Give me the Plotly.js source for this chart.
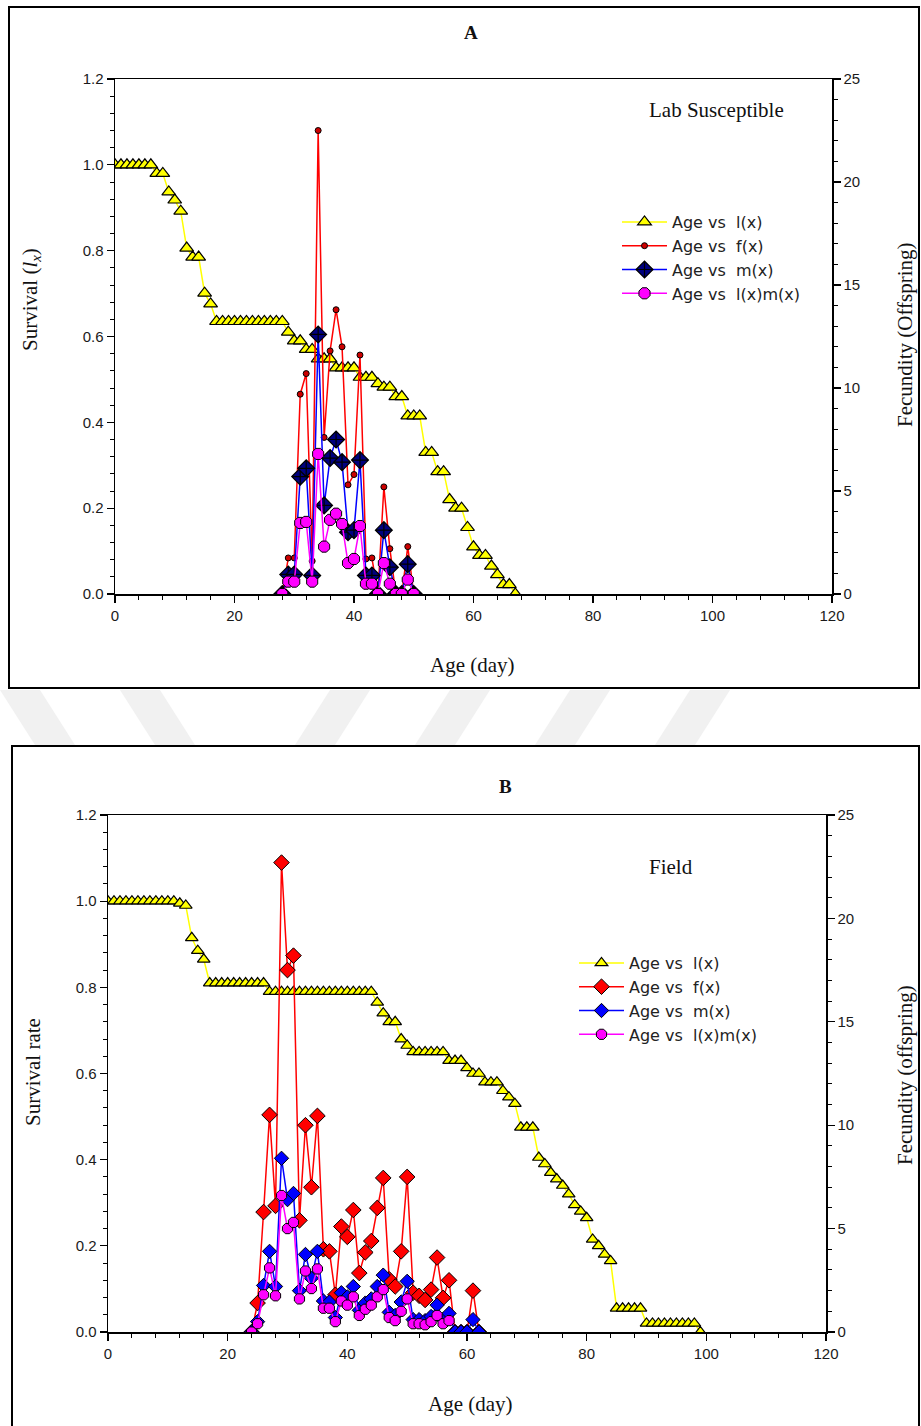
<!DOCTYPE html>
<html><head><meta charset="utf-8">
<script src="https://cdn.plot.ly/plotly-3.0.1.min.js"></script>
<style>html,body{margin:0;padding:0;background:#fff;}#chart{width:921px;height:1426px;}</style>
</head><body><div id="chart"></div>
<script>
// ---------- Panel A (Lab Susceptible) ----------
const ageLxA = [0,1,2,3,4,5,6,7,8,9,10,11,12,13,14,15,16,17,18,19,20,21,22,23,24,25,26,27,28,29,30,31,32,33,34,35,36,37,38,39,40,41,42,43,44,45,46,47,48,49,50,51,52,53,54,55,56,57,58,59,60,61,62,63,64,65,66,67];
const lxA = [1,1,1,1,1,1,1,0.98,0.98,0.937,0.918,0.892,0.806,0.785,0.785,0.701,0.676,
  0.635,0.635,0.635,0.635,0.635,0.635,0.635,0.635,0.635,0.635,0.635,0.635,
  0.61,0.59,0.59,0.57,0.57,0.548,0.548,0.548,0.527,0.527,0.527,0.527,0.505,0.505,0.505,0.49,
  0.482,0.482,0.46,0.46,0.415,0.415,0.415,0.33,0.33,0.285,0.285,0.22,0.2,0.2,0.155,0.11,
  0.09,0.09,0.065,0.045,0.022,0.022,0];
const ageFA = [28,29,30,31,32,33,34,35,36,37,38,39,40,41,42,43,44,45,46,47,48,49,50];
const fA  = [0,1.75,1.75,9.7,10.7,1.6,22.5,7.6,11.8,13.8,12.0,5.3,5.8,11.6,1.7,1.75,0,5.2,2.2,0,0,2.3,0];
const mA  = [0,0.95,0.95,5.7,6.1,0.9,12.6,4.3,6.6,7.5,6.4,3.0,3.1,6.5,0.9,0.9,0,3.1,1.3,0,0,1.45,0];
const lmA = [0,0.6,0.6,3.45,3.5,0.6,6.8,2.3,3.6,3.9,3.4,1.5,1.7,3.3,0.5,0.5,0,1.5,0.5,0,0,0.7,0];

// ---------- Panel B (Field) ----------
const ageLxB = [0,1,2,3,4,5,6,7,8,9,10,11,12,13,14,15,16,17,18,19,20,21,22,23,24,25,26,27,28,29,30,31,32,33,34,35,36,37,38,39,40,41,42,43,44,45,46,47,48,49,50,51,52,53,54,55,56,57,58,59,60,61,62,63,64,65,66,67,68,69,70,71,72,73,74,75,76,77,78,79,80,81,82,83,84,85,86,87,88,89,90,91,92,93,94,95,96,97,98,99];
const lxB = [1,1,1,1,1,1,1,1,1,1,1,1,0.995,0.99,0.915,0.885,0.865,
  0.81,0.81,0.81,0.81,0.81,0.81,0.81,0.81,0.81,0.81,
  0.79,0.79,0.79,0.79,0.79,0.79,0.79,0.79,0.79,0.79,0.79,0.79,0.79,0.79,0.79,0.79,0.79,0.79,
  0.765,0.74,0.72,0.72,0.68,0.665,0.65,0.65,0.65,0.65,0.65,0.65,0.63,0.63,0.63,0.613,0.6,0.6,
  0.58,0.58,0.58,0.56,0.545,0.53,0.475,0.475,0.475,0.405,0.39,0.37,0.355,0.34,0.32,0.295,0.28,0.265,
  0.215,0.2,0.18,0.165,0.055,0.055,0.055,0.055,0.055,0.02,0.02,0.02,0.02,0.02,0.02,0.02,0.02,0.02,0];
const ageFB = [24,25,26,27,28,29,30,31,32,33,34,35,36,37,38,39,40,41,42,43,44,45,46,47,48,49,50,51,52,53,54,55,56,57,58,59,60,61,62];
const fB = [0,1.4,5.8,10.5,6.1,22.7,17.5,18.2,5.4,10.0,7.0,10.45,4.0,3.9,1.8,5.1,4.6,5.9,2.85,3.85,4.4,6.0,7.45,2.55,2.2,3.9,7.5,1.9,1.75,1.55,2.05,3.6,1.65,2.5,0,0,0,2.0,0];
const mB = [0,0.5,2.25,3.9,2.2,8.4,6.4,6.7,2.0,3.75,2.6,3.9,1.5,1.45,0.7,1.9,1.7,2.2,1.05,1.4,1.6,2.2,2.75,0.95,0.8,1.45,2.45,0.6,0.6,0.55,0.75,1.3,0.6,0.9,0,0,0,0.6,0];
const ageLmB = [24,25,26,27,28,29,30,31,32,33,34,35,36,37,38,39,40,41,42,43,44,45,46,47,48,49,50,51,52,53,54,55,56,57];
const lmB = [0,0.4,1.8,3.1,1.75,6.6,5.0,5.3,1.6,2.95,2.1,3.05,1.15,1.15,0.5,1.5,1.3,1.7,0.8,1.1,1.3,1.7,2.05,0.7,0.55,1.0,1.6,0.4,0.4,0.35,0.5,0.8,0.4,0.55];

const seriesNames = ['Age vs\u00a0 l(x)','Age vs\u00a0 f(x)','Age vs\u00a0 m(x)','Age vs\u00a0 l(x)m(x)'];

const W = 921, H = 1426;
const px = x => x / W;
const py = y => 1 - y / H;

const blk = {color:'#000', width:1};
const traces = [
  {x:ageLxA, y:lxA, xaxis:'x', yaxis:'y', name:seriesNames[0], legend:'legend', mode:'lines+markers',
   line:{color:'#FFFF00', width:1.5}, marker:{symbol:'triangle-up', size:12, color:'#FFFF00', line:{color:'#000', width:1.2}}},
  {x:ageFA, y:fA, xaxis:'x', yaxis:'y2', name:seriesNames[1], legend:'legend', mode:'lines+markers',
   line:{color:'#FF0000', width:1.5}, marker:{symbol:'circle', size:6, color:'#CC0000', line:blk}},
  {x:ageFA, y:mA, xaxis:'x', yaxis:'y2', name:seriesNames[2], legend:'legend', mode:'lines+markers',
   line:{color:'#0000FF', width:1.5}, marker:{symbol:'diamond-cross', size:13, color:'#000080', line:{color:'#000', width:1.2}}},
  {x:ageFA, y:lmA, xaxis:'x', yaxis:'y2', name:seriesNames[3], legend:'legend', mode:'lines+markers',
   line:{color:'#FF00FF', width:1.5}, marker:{symbol:'octagon', size:12, color:'#FF00FF', line:blk}},

  {x:ageLxB, y:lxB, xaxis:'x2', yaxis:'y3', name:seriesNames[0], legend:'legend2', mode:'lines+markers',
   line:{color:'#FFFF00', width:1.5}, marker:{symbol:'triangle-up', size:11, color:'#FFFF00', line:{color:'#000', width:1.2}}},
  {x:ageFB, y:fB, xaxis:'x2', yaxis:'y4', name:seriesNames[1], legend:'legend2', mode:'lines+markers',
   line:{color:'#FF0000', width:1.5}, marker:{symbol:'diamond', size:12, color:'#FF0000', line:blk}},
  {x:ageFB, y:mB, xaxis:'x2', yaxis:'y4', name:seriesNames[2], legend:'legend2', mode:'lines+markers',
   line:{color:'#0000FF', width:1.5}, marker:{symbol:'diamond', size:11, color:'#0000FF', line:blk}},
  {x:ageLmB, y:lmB, xaxis:'x2', yaxis:'y4', name:seriesNames[3], legend:'legend2', mode:'lines+markers',
   line:{color:'#FF00FF', width:1.5}, marker:{symbol:'octagon', size:11, color:'#FF00FF', line:blk}}
];

const tickFont = {family:'"Liberation Sans", Arial, sans-serif', size:15, color:'#1a1a1a'};
const base = {showline:true, linecolor:'#000', linewidth:1.5, ticks:'outside', ticklen:7, tickwidth:1.2,
  tickcolor:'#000', showgrid:false, zeroline:false, tickfont:tickFont, fixedrange:true, automargin:false};
const minorY = d => ({dtick:d, ticks:'outside', ticklen:4, tickwidth:1, tickcolor:'#000', showgrid:false});

const serif = '"Liberation Serif", "Times New Roman", serif';
const titleFont = {family:serif, size:21, color:'#111'};
const legendFont = {family:'"DejaVu Sans", Verdana, sans-serif', size:16, color:'#222'};

function ann(x, y, text, font, angle) {
  const a = {xref:'paper', yref:'paper', x:px(x), y:py(y), xanchor:'center', yanchor:'middle',
    text:text, showarrow:false, font:font};
  if (angle) a.textangle = angle;
  return a;
}
function band(xTop, xBot, w) {
  return {type:'path', xref:'paper', yref:'paper', layer:'below', fillcolor:'#f1f1f1', line:{width:0},
    path:`M ${px(xTop)} ${py(690)} L ${px(xTop + w)} ${py(690)} L ${px(xBot + w)} ${py(745)} L ${px(xBot)} ${py(745)} Z`};
}

const layout = {
  width:W, height:H, margin:{l:0,r:0,t:0,b:0}, paper_bgcolor:'#fff', plot_bgcolor:'#fff',
  showlegend:true,
  xaxis: Object.assign({}, base, {domain:[px(115),px(832)], anchor:'y', range:[0,120], tick0:0, dtick:20,
    mirror:true, minor:minorY(4)}),
  yaxis: Object.assign({}, base, {domain:[py(594),py(79)], anchor:'x', range:[0,1.2], tick0:0, dtick:0.2,
    tickformat:'.1f', minor:minorY(0.04)}),
  yaxis2: Object.assign({}, base, {overlaying:'y', side:'right', anchor:'x', range:[0,25], tick0:0, dtick:5,
    minor:minorY(1)}),
  xaxis2: Object.assign({}, base, {domain:[px(108),px(826)], anchor:'y3', range:[0,120], tick0:0, dtick:20,
    mirror:true, minor:minorY(4)}),
  yaxis3: Object.assign({}, base, {domain:[py(1332),py(815)], anchor:'x2', range:[0,1.2], tick0:0, dtick:0.2,
    tickformat:'.1f', minor:minorY(0.04)}),
  yaxis4: Object.assign({}, base, {overlaying:'y3', side:'right', anchor:'x2', range:[0,25], tick0:0, dtick:5,
    minor:minorY(1)}),
  legend: {x:px(617), y:py(205), xanchor:'left', yanchor:'top', bgcolor:'rgba(0,0,0,0)', borderwidth:0,
    itemwidth:45, font:legendFont, tracegroupgap:0},
  legend2: {x:px(574), y:py(946), xanchor:'left', yanchor:'top', bgcolor:'rgba(0,0,0,0)', borderwidth:0,
    itemwidth:45, font:legendFont, tracegroupgap:0},
  shapes: [
    band(0, 35, 40), band(120, 155, 40),
    band(330, 295, 40), band(450, 415, 40), band(570, 535, 40), band(690, 655, 40),
    {type:'rect', xref:'paper', yref:'paper', x0:px(9), x1:px(919), y0:py(688), y1:py(7), line:{color:'#000', width:2}, fillcolor:'rgba(0,0,0,0)'},
    {type:'rect', xref:'paper', yref:'paper', x0:px(12), x1:px(919), y0:py(1432), y1:py(746), line:{color:'#000', width:2}, fillcolor:'rgba(0,0,0,0)'}
  ],
  annotations: [
    ann(471, 32, '<b>A</b>', {family:serif, size:19, color:'#111'}),
    ann(716, 110, 'Lab Susceptible', titleFont),
    ann(31, 300, 'Survival (<i>l<sub>x</sub></i>)', titleFont, -90),
    ann(905, 335, 'Fecundity (Offspring)', titleFont, -90),
    ann(472, 665, 'Age (day)', titleFont),

    ann(505, 786, '<b>B</b>', {family:serif, size:19, color:'#111'}),
    ann(671, 867, 'Field', titleFont),
    ann(33, 1072, 'Survival rate', titleFont, -90),
    ann(905, 1075, 'Fecundity (offspring)', titleFont, -90),
    ann(470, 1404, 'Age (day)', titleFont)
  ]
};

Plotly.newPlot('chart', traces, layout, {displayModeBar:false, staticPlot:true});
</script>
</body></html>
